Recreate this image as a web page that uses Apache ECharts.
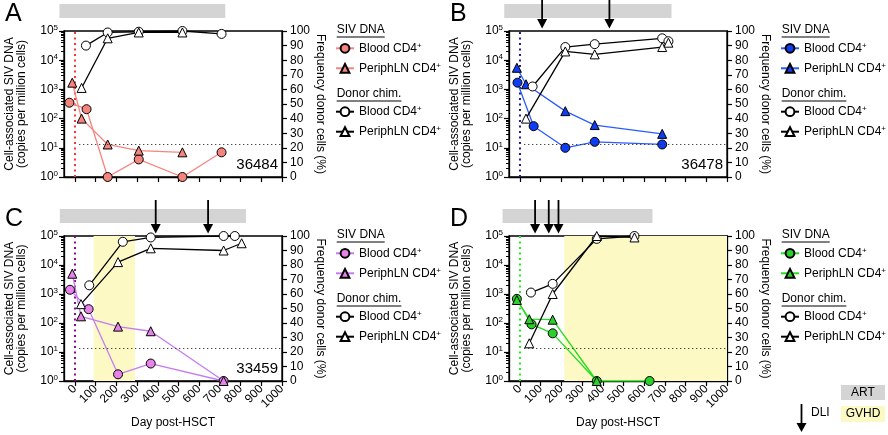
<!DOCTYPE html>
<html><head><meta charset="utf-8">
<script src="https://cdn.jsdelivr.net/npm/echarts@6/dist/echarts.min.js"></script>
<style>html,body{margin:0;padding:0;background:#fff}#c{width:888px;height:435px}</style>
</head><body><div id="c"></div>
<script>
const FONT = "'Liberation Sans', Arial, Helvetica, sans-serif";

// ---- tick labels ----
const dayTicks = [0, 100, 200, 300, 400, 500, 600, 700, 800, 900, 1000];
const logMinorMantissa = [2, 3, 4, 5, 6, 7, 8, 9];
const logDecades = [0, 1, 2, 3, 4];
const lodValue = 13;           // detection limit (dotted horizontal)
const hsctDay = 0;             // transplant day (dotted vertical)
const yLogRange = [1, 100000];
const xMin = -53, xMax = 1000;

// ---- Panel A (36484) ----
const aSivBloodDay = [-27, 56, 158, 308, 519, 708];
const aSivBloodVal = [350, 210, 1, 4, 1, 7];
const aSivLNDay = [-13, 32, 158, 308, 519];
const aSivLNVal = [1700, 100, 13, 8, 7];
const aChimBloodDay = [53, 158, 308, 519, 708];
const aChimBloodVal = [90, 99, 99.5, 100, 98];
const aChimLNDay = [32, 158, 308, 519];
const aChimLNVal = [61, 95, 99, 99];
const aArt = [-75, 726];
const aDli = [];
const aGvhd = null;

// ---- Panel B (36478) ----
const bSivBloodDay = [-12, 66, 219, 361, 687];
const bSivBloodVal = [1700, 55, 10, 16, 13];
const bSivLNDay = [-15, 29, 219, 361, 687];
const bSivLNVal = [5500, 1500, 180, 60, 30];
const bChimBloodDay = [61, 219, 361, 687, 717];
const bChimBloodVal = [62, 89, 91, 95, 93];
const bChimLNDay = [29, 219, 361, 687, 717];
const bChimLNVal = [40, 86, 84, 89, 92];
const bArt = [-76, 732];
const bDli = [107, 432];
const bGvhd = null;

// ---- Panel C (33459) ----
const cSivBloodDay = [-24, 66, 208, 366, 718];
const cSivBloodVal = [1400, 300, 1.7, 4, 1];
const cSivLNDay = [-13, 29, 208, 366, 718];
const cSivLNVal = [5000, 170, 75, 52, 1];
const cChimBloodDay = [69, 231, 366, 718, 772];
const cChimBloodVal = [66, 96, 99, 100, 100];
const cChimLNDay = [29, 208, 366, 718, 805];
const cChimLNVal = [53, 82, 91.5, 90, 95];
const cArt = [-73, 826];
const cDli = [390, 643];
const cGvhd = [90, 290];

// ---- Panel D (36483) ----
const dSivBloodDay = [-15, 56, 158, 371, 626];
const dSivBloodVal = [680, 90, 44, 1, 1];
const dSivLNDay = [-15, 45, 158, 371];
const dSivLNVal = [620, 135, 130, 1];
const dChimBloodDay = [53, 158, 371, 553];
const dChimBloodVal = [61, 67, 98, 100];
const dChimLNDay = [45, 158, 371, 553];
const dChimLNVal = [26, 60, 100, 99];
const dArt = [-84, 640];
const dDli = [73, 139, 186];
const dGvhd = [214, 1000];

const zip = (xs, ys) => xs.map((x, i) => [x, ys[i]]);

const panels = [
  {L:'A', id:'36484', gx:64, gy:31, gh:146, xl:false, line:'#F7857F', fill:'#F4847E', vline:'#FF3030',
   sb:[aSivBloodDay,aSivBloodVal], sl:[aSivLNDay,aSivLNVal], cb:[aChimBloodDay,aChimBloodVal], cl:[aChimLNDay,aChimLNVal], art:aArt, dli:aDli, gvhd:aGvhd},
  {L:'B', id:'36478', gx:509, gy:31, gh:146, xl:false, line:'#2C5BFF', fill:'#0F3CF5', vline:'#1C1C90',
   sb:[bSivBloodDay,bSivBloodVal], sl:[bSivLNDay,bSivLNVal], cb:[bChimBloodDay,bChimBloodVal], cl:[bChimLNDay,bChimLNVal], art:bArt, dli:bDli, gvhd:bGvhd},
  {L:'C', id:'33459', gx:64, gy:236, gh:145, xl:true, line:'#C57CF2', fill:'#E683E8', vline:'#8A0A8A',
   sb:[cSivBloodDay,cSivBloodVal], sl:[cSivLNDay,cSivLNVal], cb:[cChimBloodDay,cChimBloodVal], cl:[cChimLNDay,cChimLNVal], art:cArt, dli:cDli, gvhd:cGvhd},
  {L:'D', id:'36483', gx:509, gy:236, gh:145, xl:true, line:'#22DD22', fill:'#2BD12B', vline:'#22EE22',
   sb:[dSivBloodDay,dSivBloodVal], sl:[dSivLNDay,dSivLNVal], cb:[dChimBloodDay,dChimBloodVal], cl:[dChimLNDay,dChimLNVal], art:dArt, dli:dDli, gvhd:dGvhd}
];
const GW = 218;
const legendText = {blood: 'Blood CD4', ln: 'PeriphLN CD4'};

const supRich = {
  t: {fontFamily: FONT, fontSize: 12, color: '#000', lineHeight: 14},
  s: {fontFamily: FONT, fontSize: 8, color: '#000', lineHeight: 6, verticalAlign: 'top'}
};

const ctx = document.createElement('canvas').getContext('2d');
function textW(txt, size) { ctx.font = size + 'px ' + FONT; return ctx.measureText(txt).width; }

const grid = [], xAxis = [], yAxis = [], series = [], legend = [], graphic = [];
const axisLineStyle = {color: '#000', width: 1.3};

panels.forEach((p, i) => {
  const topH = p.gy === 31 ? 31 : 36;
  grid.push({left: p.gx, top: p.gy, width: GW, height: p.gh, show: true, borderColor: '#000', borderWidth: 1.3, containLabel: false});
  grid.push({left: p.gx, top: p.gy - topH, width: GW, height: topH, show: false});
  const gMain = 2 * i, gTop = 2 * i + 1;

  xAxis.push({
    type: 'value', gridIndex: gMain, min: xMin, max: xMax,
    axisLine: {show: true, onZero: false, lineStyle: axisLineStyle},
    axisTick: {show: true, length: 5, inside: false, customValues: dayTicks, lineStyle: {color: '#000', width: 1.2}},
    axisLabel: {show: p.xl, customValues: dayTicks, rotate: 45, margin: 6, fontFamily: FONT, fontSize: 12, color: '#000',
      formatter: v => String(v)},
    splitLine: {show: false},
    name: p.xl ? 'Day post-HSCT' : '', nameLocation: 'middle', nameGap: 36,
    nameTextStyle: {fontFamily: FONT, fontSize: 12, color: '#000'}
  });
  xAxis.push({type: 'value', gridIndex: gTop, min: xMin, max: xMax, show: false});

  const yLog = 4 * i, yPct = 4 * i + 1, yTop = 4 * i + 3;
  yAxis.push({
    type: 'log', logBase: 10, gridIndex: gMain, min: yLogRange[0], max: yLogRange[1], position: 'left',
    axisLine: {show: true, onZero: false, lineStyle: axisLineStyle},
    axisTick: {show: true, length: 5, lineStyle: {color: '#000', width: 1.2}},
    minorTick: {show: false},
    splitLine: {show: false},
    axisLabel: {margin: 6, formatter: v => '{t|10}{s|' + Math.round(Math.log10(v)) + '}', rich: supRich},
    name: 'Cell-associated SIV DNA\n(copies per million cells)', nameLocation: 'middle', nameRotate: 90, nameGap: 36,
    nameTextStyle: {fontFamily: FONT, fontSize: 12, color: '#000', lineHeight: 12}
  });
  yAxis.push({
    type: 'value', gridIndex: gMain, min: 0, max: 100, interval: 10, position: 'right',
    axisLine: {show: true, onZero: false, lineStyle: axisLineStyle},
    axisTick: {show: true, length: 5, lineStyle: {color: '#000', width: 1.2}},
    splitLine: {show: false},
    axisLabel: {margin: 8, fontFamily: FONT, fontSize: 12, color: '#000'},
    name: 'Frequency donor cells (%)', nameLocation: 'middle', nameRotate: -90, nameGap: 31,
    nameTextStyle: {fontFamily: FONT, fontSize: 12, color: '#000'}
  });
  const minorVals = [];
  logDecades.forEach(d => logMinorMantissa.forEach(m => minorVals.push(d + Math.log10(m))));
  yAxis.push({
    type: 'value', gridIndex: gMain, min: 0, max: 5, position: 'left',
    axisLine: {show: false, onZero: false}, splitLine: {show: false}, axisLabel: {show: false},
    axisTick: {show: true, length: 3, customValues: minorVals, lineStyle: {color: '#000', width: 1}}
  });
  yAxis.push({type: 'value', gridIndex: gTop, min: 0, max: 1, show: false});

  // background: GVHD area + x=0 dotted line (as a line series)
  const bg = {
    type: 'line', xAxisIndex: gMain, yAxisIndex: yLog, z: 1, silent: true, symbol: 'none',
    data: [[hsctDay, yLogRange[0]], [hsctDay, yLogRange[1]]],
    lineStyle: {color: p.vline, type: [2, 3.5], width: 2, cap: 'butt'},
    emphasis: {disabled: true}
  };
  if (p.gvhd) {
    bg.markArea = {silent: true, itemStyle: {color: '#FCF9C4'}, data: [[{xAxis: p.gvhd[0]}, {xAxis: p.gvhd[1]}]]};
  }
  series.push(bg);
  series.push({
    type: 'line', xAxisIndex: gMain, yAxisIndex: yLog, data: [], z: 1, silent: true,
    markLine: {silent: true, symbol: ['none', 'none'], label: {show: false},
      lineStyle: {color: '#333', type: [1.2, 2.8], width: 1.2},
      data: [[{coord: [20, lodValue]}, {coord: [1000, lodValue]}]]}
  });

  const names = {sb: p.L + '_sivBlood', sl: p.L + '_sivLN', cb: p.L + '_chimBlood', cl: p.L + '_chimLN'};
  const mk = (key, pts, yIdx, sym, size, lineColor, fillColor, z) => ({
    name: names[key], type: 'line', xAxisIndex: gMain, yAxisIndex: yIdx,
    data: zip(pts[0], pts[1]), symbol: sym, symbolSize: size, z: z,
    lineStyle: {color: lineColor, width: 1.3},
    itemStyle: {color: fillColor, borderColor: '#000', borderWidth: 1},
    emphasis: {disabled: true}, animation: false
  });
  series.push(mk('sb', p.sb, yLog, 'circle', 9, p.line, p.fill, 3));
  series.push(mk('sl', p.sl, yLog, 'triangle', 9, p.line, p.fill, 3));
  series.push(mk('cb', p.cb, yPct, 'circle', 9, '#000', '#fff', 4));
  series.push(mk('cl', p.cl, yPct, 'triangle', 9, '#000', '#fff', 4));

  // ART bar
  series.push({
    type: 'custom', xAxisIndex: gTop, yAxisIndex: yTop, clip: false, silent: true, z: 2,
    data: [[p.art[0], p.art[1]]],
    renderItem: (params, api) => {
      const x0 = api.coord([api.value(0), 0])[0];
      const x1 = api.coord([api.value(1), 0])[0];
      const cs = params.coordSys;
      const b = cs.y + cs.height;
      return {type: 'rect', shape: {x: x0, y: b - 27, width: x1 - x0, height: 14}, style: {fill: '#D4D4D4'}};
    }
  });
  if (p.dli.length) {
    series.push({
      type: 'custom', xAxisIndex: gTop, yAxisIndex: yTop, clip: false, silent: true, z: 5,
      data: p.dli.map(d => [d, 0]),
      renderItem: (params, api) => {
        const x = api.coord([api.value(0), 0])[0];
        const cs = params.coordSys;
        const b = cs.y + cs.height;
        return {type: 'group', children: [
          {type: 'line', shape: {x1: x, y1: b - 36, x2: x, y2: b - 11}, style: {stroke: '#000', lineWidth: 1.8}},
          {type: 'polygon', shape: {points: [[x - 5, b - 12], [x + 5, b - 12], [x, b - 2.5]]}, style: {fill: '#000'}}
        ]};
      }
    });
  }

  // legends
  const lx = p.gx + 271, dy = p.gy - 31;
  const fmt = n => '{t|' + (n.endsWith('Blood') ? legendText.blood : legendText.ln) + '}{s|+}';
  [[ [names.sb, names.sl], 41.3 ], [ [names.cb, names.cl], 104.7 ]].forEach(([dat, top]) => {
    legend.push({
      orient: 'vertical', left: lx, top: top + dy, itemWidth: 18, itemHeight: 11, itemGap: 7, padding: 0,
      selectedMode: false, data: dat, formatter: fmt,
      textStyle: {fontFamily: FONT, fontSize: 12, color: '#000', rich: supRich}
    });
  });

  // headings with underline
  [['SIV DNA', 31], ['Donor chim.', 95]].forEach(([txt, cy]) => {
    const w = textW(txt, 12);
    graphic.push({type: 'text', left: lx + 1.7, top: cy + dy - 7, style: {text: txt, font: '12px ' + FONT, fill: '#000'}});
    graphic.push({type: 'line', shape: {x1: lx + 1.7, y1: cy + dy + 6, x2: lx + 1.7 + w, y2: cy + dy + 6}, style: {stroke: '#000', lineWidth: 1}});
  });
  // panel letter
  graphic.push({type: 'text', left: p.gx - 59, top: p.gy - 29, style: {text: p.L, font: '25px ' + FONT, fill: '#000'}});
  // animal id
  graphic.push({type: 'text', right: 888 - (p.gx + GW - 4), top: p.gy + p.gh - 20, style: {text: p.id, font: '15px ' + FONT, fill: '#000', align: 'right'}});
});

// key (bottom right)
graphic.push({type: 'rect', shape: {x: 841, y: 385, width: 44, height: 15}, style: {fill: '#D4D4D4'}});
graphic.push({type: 'text', x: 863, y: 392.5, style: {text: 'ART', font: '12px ' + FONT, fill: '#000', align: 'center', verticalAlign: 'middle'}});
graphic.push({type: 'rect', shape: {x: 841, y: 406, width: 44, height: 16}, style: {fill: '#FCF9C4'}});
graphic.push({type: 'text', x: 863, y: 414, style: {text: 'GVHD', font: '12px ' + FONT, fill: '#000', align: 'center', verticalAlign: 'middle'}});
graphic.push({type: 'line', shape: {x1: 801.5, y1: 404, x2: 801.5, y2: 424}, style: {stroke: '#000', lineWidth: 1.8}});
graphic.push({type: 'polygon', shape: {points: [[796.5, 423], [806.5, 423], [801.5, 432]]}, style: {fill: '#000'}});
graphic.push({type: 'text', x: 811, y: 413, style: {text: 'DLI', font: '12px ' + FONT, fill: '#000', verticalAlign: 'middle'}});

const chart = echarts.init(document.getElementById('c'), null, {renderer: 'canvas'});
chart.setOption({
  animation: false,
  backgroundColor: '#fff',
  textStyle: {fontFamily: FONT},
  grid, xAxis, yAxis, series, legend, graphic
});
</script></body></html>
